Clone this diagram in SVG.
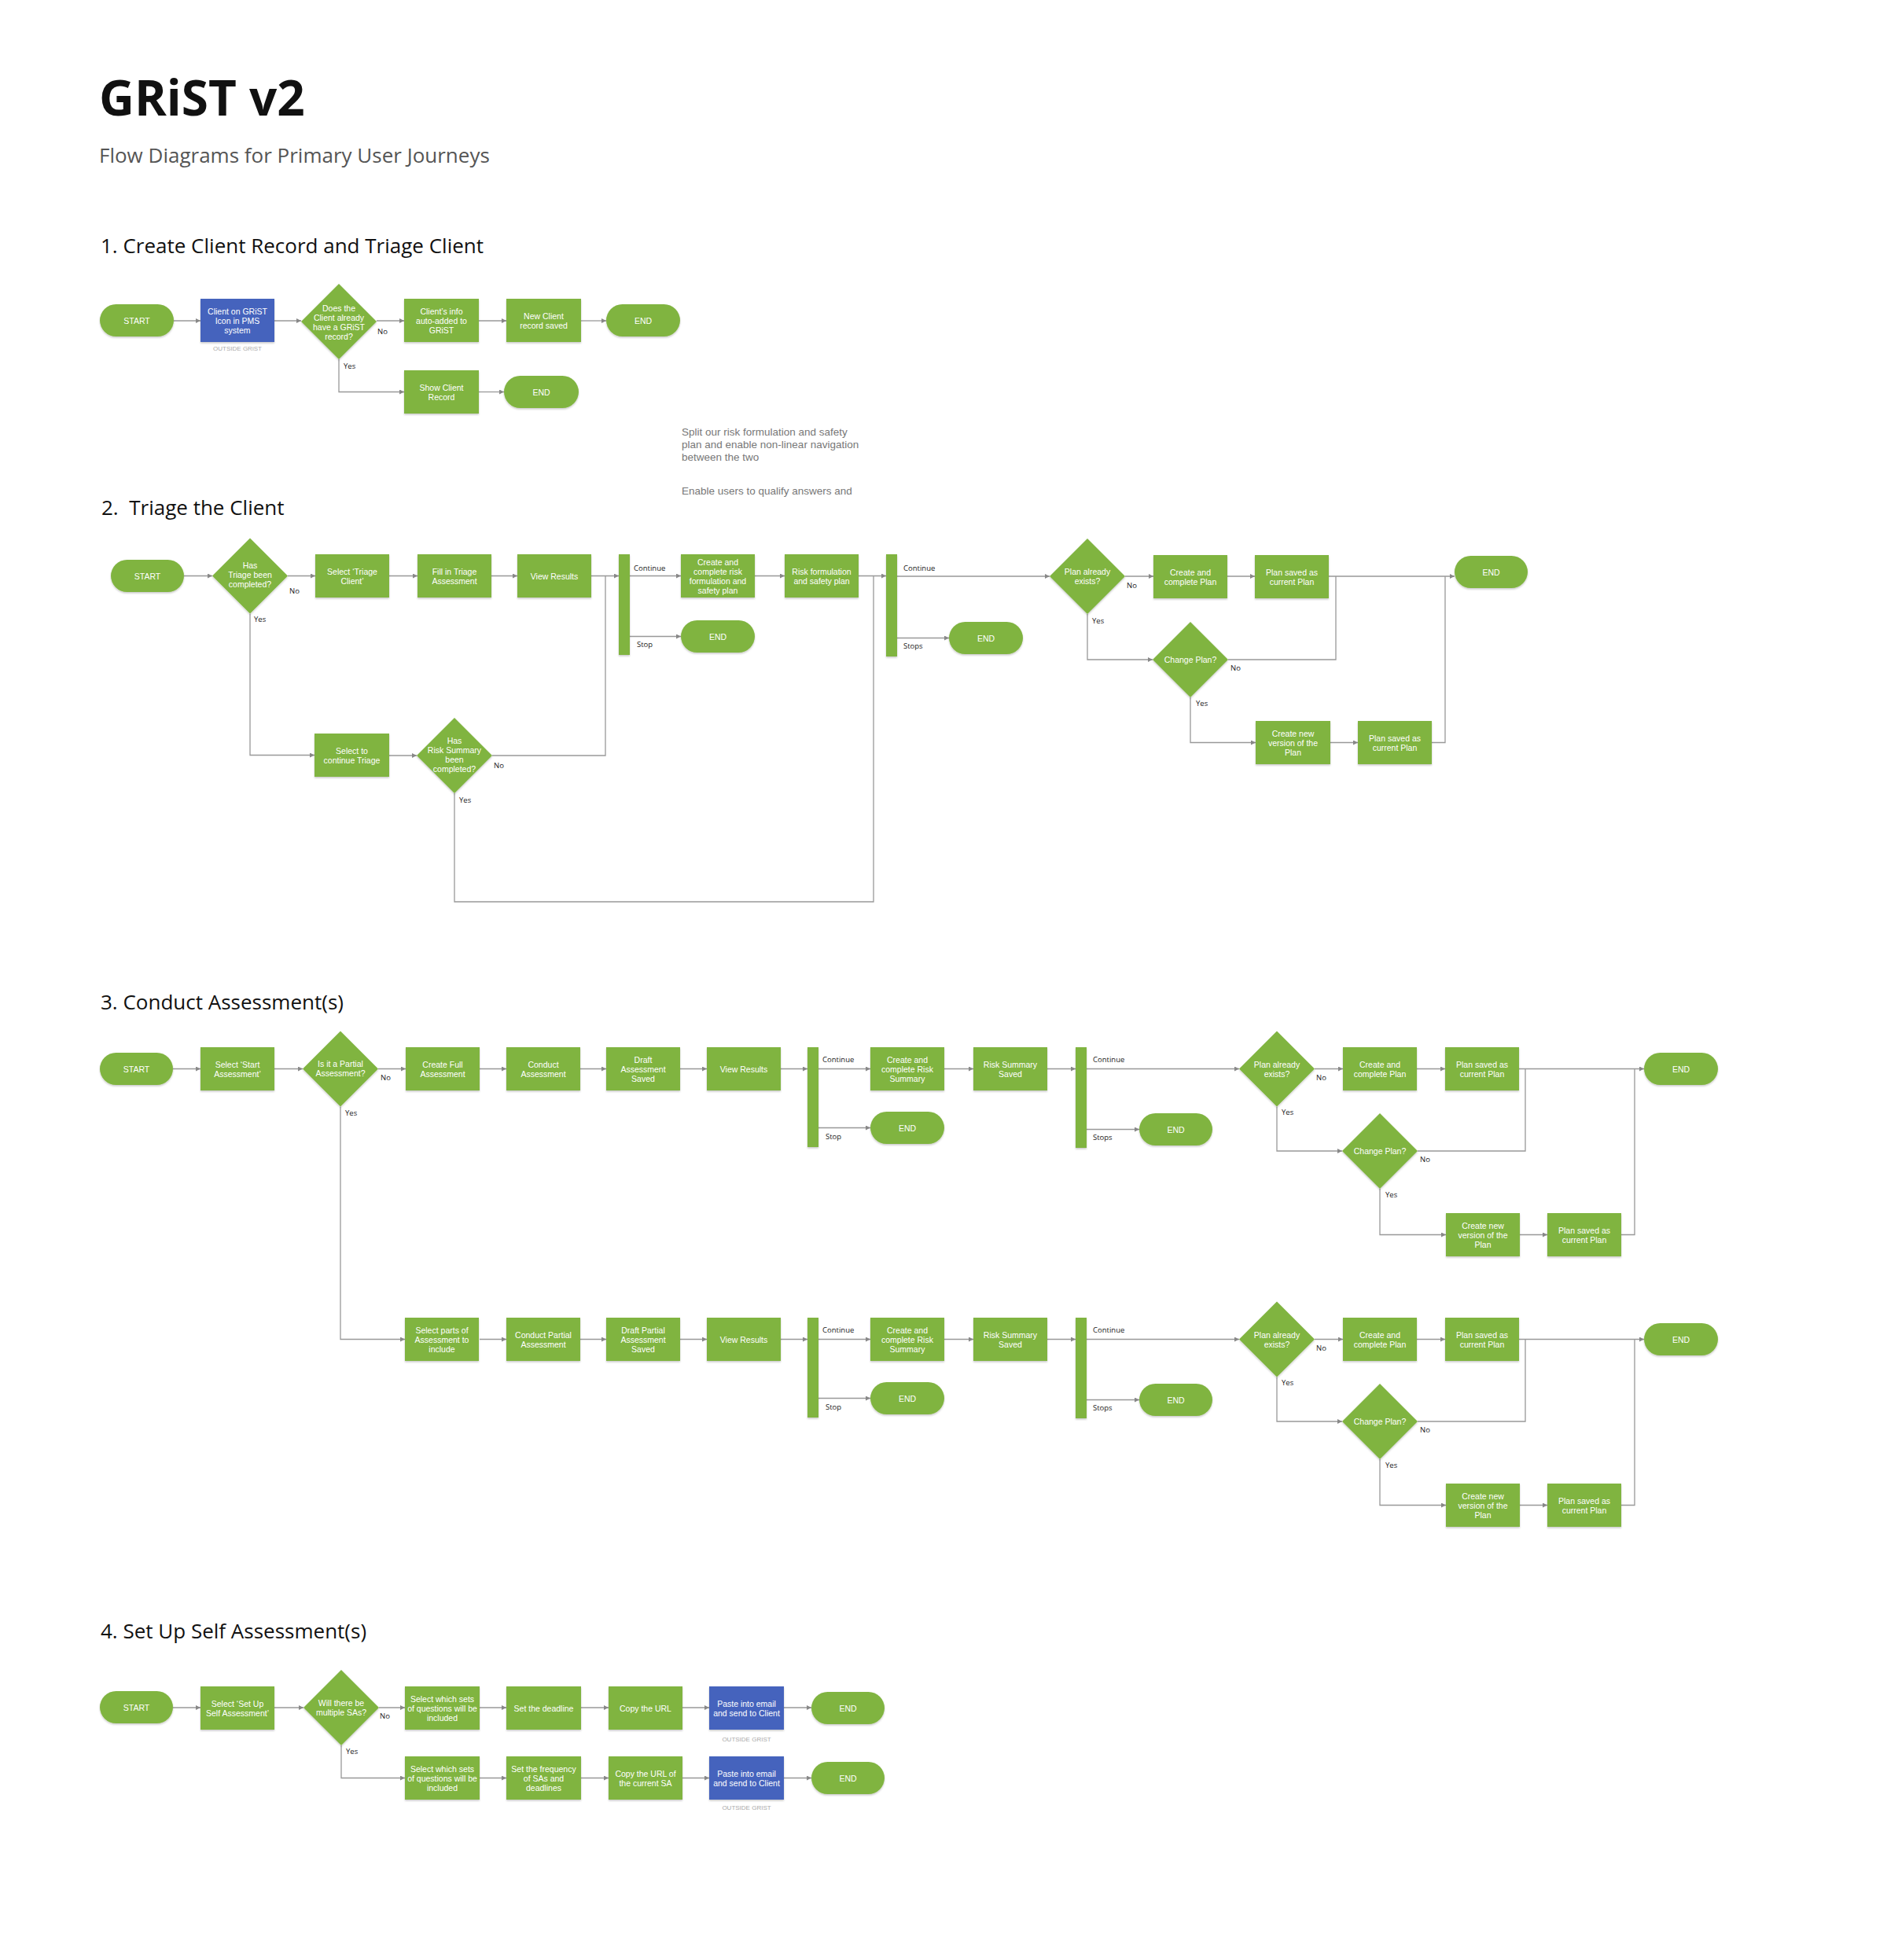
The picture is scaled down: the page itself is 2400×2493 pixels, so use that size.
<svg xmlns="http://www.w3.org/2000/svg" width="2400" height="2493" viewBox="0 0 2400 2493">
<defs>
<style>
.n{fill:#80b441;filter:url(#sh)}
.b{fill:#4563bd;filter:url(#sh)}
.t{font-family:"Liberation Sans",Arial,sans-serif;font-size:10.5px;fill:#fff;text-anchor:middle}
.l{font-family:"Open Sans","Liberation Sans",sans-serif;font-size:9.5px;fill:#222}
.og{font-family:"Liberation Sans",Arial,sans-serif;font-size:8px;fill:#aaa;text-anchor:middle}
.c{fill:none;stroke:#999;stroke-width:1.3}
.a{marker-end:url(#ah)}
.h{font-family:"Open Sans","Liberation Sans",sans-serif;font-size:26px;fill:#111}
.note{font-family:"Liberation Sans",Arial,sans-serif;font-size:13.5px;fill:#777}
</style>
<filter id="sh" x="-10%" y="-10%" width="130%" height="140%">
<feDropShadow dx="0" dy="1.5" stdDeviation="1.2" flood-color="#000" flood-opacity="0.22"/>
</filter>
<marker id="ah" viewBox="0 0 6 6" refX="6" refY="3" markerWidth="6" markerHeight="6" markerUnits="userSpaceOnUse" orient="auto">
<path d="M0,0 L6,3 L0,6 z" fill="#888"/>
</marker>
</defs>
<rect x="0" y="0" width="2400" height="2493" fill="#fff"/>

<g id="titles">
<text x="126" y="147" font-family="'Open Sans','Liberation Sans',sans-serif" font-weight="700" font-size="62" fill="#111">GRiST v2</text>
<text x="126" y="207" font-family="'Open Sans','Liberation Sans',sans-serif" font-size="26" fill="#555">Flow Diagrams for Primary User Journeys</text>
<text class="h" x="128" y="322">1. Create Client Record and Triage Client</text>
<text class="h" x="129" y="655" xml:space="preserve">2.  Triage the Client</text>
<text class="h" x="128" y="1284">3. Conduct Assessment(s)</text>
<text class="h" x="128" y="2084">4. Set Up Self Assessment(s)</text>
</g>

<g id="notes">
<text class="note" x="867" y="554">Split our risk formulation and safety</text>
<text class="note" x="867" y="570">plan and enable non-linear navigation</text>
<text class="note" x="867" y="586">between the two</text>
<text class="note" x="867" y="629">Enable users to qualify answers and</text>
</g>

<g id="connectors">
<!-- Section 1 -->
<path class="c a" d="M221,408 H255"/>
<path class="c a" d="M349,408 H383"/>
<path class="c a" d="M479,408 H514"/>
<path class="c a" d="M609,408 H644"/>
<path class="c a" d="M739,408 H771"/>
<path class="c a" d="M431,457 V498.5 H514"/>
<path class="c a" d="M609,498.5 H641"/>
<text class="l" x="480" y="425">No</text>
<text class="l" x="437" y="469">Yes</text>
<!-- Section 2 -->
<path class="c a" d="M234,732.5 H270"/>
<path class="c a" d="M366,732.5 H401"/>
<path class="c a" d="M495,732.5 H531"/>
<path class="c a" d="M625,732.5 H658"/>
<path class="c a" d="M752,732.5 H787"/>
<path class="c a" d="M801,732.5 H866"/>
<path class="c a" d="M801,809.5 H866"/>
<path class="c a" d="M960,732.5 H998"/>
<path class="c a" d="M1092,732.5 H1127"/>
<path class="c a" d="M1141,733 H1335"/>
<path class="c a" d="M1141,811.5 H1207"/>
<path class="c a" d="M1431,733 H1467"/>
<path class="c a" d="M1561,733 H1596"/>
<path class="c a" d="M1690,733 H1850"/>
<path class="c a" d="M318,780.5 V960.5 H400"/>
<path class="c a" d="M495,961 H530"/>
<path class="c" d="M626,961 H770 V732.5"/>
<path class="c" d="M578,1009 V1147 H1111 V732.5"/>
<path class="c a" d="M1383,781 V839 H1466"/>
<path class="c" d="M1562,839 H1699 V733"/>
<path class="c a" d="M1514,887 V944.5 H1597"/>
<path class="c a" d="M1692,944.5 H1727"/>
<path class="c" d="M1821,944.5 H1838 V733"/>
<text class="l" x="368" y="755">No</text>
<text class="l" x="323" y="791">Yes</text>
<text class="l" x="806" y="726">Continue</text>
<text class="l" x="810" y="823">Stop</text>
<text class="l" x="1149" y="726">Continue</text>
<text class="l" x="1149" y="825">Stops</text>
<text class="l" x="1433" y="748">No</text>
<text class="l" x="1389" y="793">Yes</text>
<text class="l" x="1565" y="853">No</text>
<text class="l" x="1521" y="898">Yes</text>
<text class="l" x="628" y="977">No</text>
<text class="l" x="584" y="1021">Yes</text>
<!-- Section 3 upper -->
<path class="c a" d="M220,1359.5 H255"/>
<path class="c a" d="M349,1359.5 H385"/>
<path class="c a" d="M481,1359.5 H516"/>
<path class="c a" d="M433,1407.5 V1703.5 H515"/>
<text class="l" x="484" y="1374">No</text>
<text class="l" x="439" y="1419">Yes</text>
<g id="s3-upper-links">
<path class="c a" d="M610,1359.5 H644"/>
<path class="c a" d="M738,1359.5 H771"/>
<path class="c a" d="M865,1359.5 H899"/>
<path class="c a" d="M993,1359.5 H1027"/>
<path class="c a" d="M1041,1359.5 H1107"/>
<path class="c a" d="M1041,1434.5 H1107"/>
<path class="c a" d="M1201,1359.5 H1238"/>
<path class="c a" d="M1332,1359.5 H1368"/>
<path class="c a" d="M1382,1359.5 H1576"/>
<path class="c a" d="M1382,1436.5 H1449"/>
<path class="c a" d="M1672,1359.5 H1708"/>
<path class="c a" d="M1802,1359.5 H1838"/>
<path class="c a" d="M1932,1359.5 H2091"/>
<path class="c a" d="M1624,1407.5 V1464 H1707"/>
<path class="c" d="M1803,1464 H1940 V1359.5"/>
<path class="c a" d="M1755,1512 V1570.5 H1839"/>
<path class="c a" d="M1933,1570.5 H1968"/>
<path class="c" d="M2062,1570.5 H2079 V1359.5"/>
<text class="l" x="1046" y="1351">Continue</text>
<text class="l" x="1050" y="1449">Stop</text>
<text class="l" x="1390" y="1351">Continue</text>
<text class="l" x="1390" y="1450">Stops</text>
<text class="l" x="1674" y="1374">No</text>
<text class="l" x="1630" y="1418">Yes</text>
<text class="l" x="1806" y="1478">No</text>
<text class="l" x="1762" y="1523">Yes</text>
</g>
<g id="s3-lower-links" transform="translate(0,344)">
<path class="c a" d="M610,1359.5 H644"/>
<path class="c a" d="M738,1359.5 H771"/>
<path class="c a" d="M865,1359.5 H899"/>
<path class="c a" d="M993,1359.5 H1027"/>
<path class="c a" d="M1041,1359.5 H1107"/>
<path class="c a" d="M1041,1434.5 H1107"/>
<path class="c a" d="M1201,1359.5 H1238"/>
<path class="c a" d="M1332,1359.5 H1368"/>
<path class="c a" d="M1382,1359.5 H1576"/>
<path class="c a" d="M1382,1436.5 H1449"/>
<path class="c a" d="M1672,1359.5 H1708"/>
<path class="c a" d="M1802,1359.5 H1838"/>
<path class="c a" d="M1932,1359.5 H2091"/>
<path class="c a" d="M1624,1407.5 V1464 H1707"/>
<path class="c" d="M1803,1464 H1940 V1359.5"/>
<path class="c a" d="M1755,1512 V1570.5 H1839"/>
<path class="c a" d="M1933,1570.5 H1968"/>
<path class="c" d="M2062,1570.5 H2079 V1359.5"/>
<text class="l" x="1046" y="1351">Continue</text>
<text class="l" x="1050" y="1449">Stop</text>
<text class="l" x="1390" y="1351">Continue</text>
<text class="l" x="1390" y="1450">Stops</text>
<text class="l" x="1674" y="1374">No</text>
<text class="l" x="1630" y="1418">Yes</text>
<text class="l" x="1806" y="1478">No</text>
<text class="l" x="1762" y="1523">Yes</text>
</g>
<!-- Section 4 -->
<path class="c a" d="M220,2172 H255"/>
<path class="c a" d="M349,2172 H386"/>
<path class="c a" d="M482,2172 H515"/>
<path class="c a" d="M610,2172 H644"/>
<path class="c a" d="M739,2172 H774"/>
<path class="c a" d="M868,2172 H902"/>
<path class="c a" d="M997,2172 H1032"/>
<path class="c a" d="M434,2220 V2261.5 H515"/>
<path class="c a" d="M610,2261.5 H644"/>
<path class="c a" d="M739,2261.5 H774"/>
<path class="c a" d="M868,2261.5 H902"/>
<path class="c a" d="M997,2261.5 H1032"/>
<text class="l" x="483" y="2186">No</text>
<text class="l" x="440" y="2231">Yes</text>
</g>

<!-- ===== Section 1 nodes ===== -->
<g id="s1-start"><rect class="n" x="127" y="387" width="94" height="41" rx="20.5"/><text class="t" x="174" y="411.5">START</text></g>
<g id="s1-client-pms"><rect class="b" x="255" y="380" width="94" height="55"/><text class="t"><tspan x="302" y="400">Client on GRiST</tspan><tspan x="302" y="412">Icon in PMS</tspan><tspan x="302" y="424">system</tspan></text><text class="og" x="302" y="446">OUTSIDE GRiST</text></g>
<g id="s1-has-record"><polygon class="n" points="431,361 479,409 431,457 383,409"/><text class="t"><tspan x="431" y="395.5">Does the</tspan><tspan x="431" y="407.5">Client already</tspan><tspan x="431" y="419.5">have a GRiST</tspan><tspan x="431" y="431.5">record?</tspan></text></g>
<g id="s1-auto-added"><rect class="n" x="514" y="380" width="95" height="55"/><text class="t"><tspan x="561.5" y="399.5">Client’s info</tspan><tspan x="561.5" y="411.5">auto-added to</tspan><tspan x="561.5" y="423.5">GRiST</tspan></text></g>
<g id="s1-record-saved"><rect class="n" x="644" y="380" width="95" height="55"/><text class="t"><tspan x="691.5" y="405.5">New Client</tspan><tspan x="691.5" y="417.5">record saved</tspan></text></g>
<g id="s1-end"><rect class="n" x="771" y="387" width="94" height="41" rx="20.5"/><text class="t" x="818" y="411.5">END</text></g>
<g id="s1-show-record"><rect class="n" x="514" y="471" width="95" height="55"/><text class="t"><tspan x="561.5" y="496.5">Show Client</tspan><tspan x="561.5" y="508.5">Record</tspan></text></g>
<g id="s1-end2"><rect class="n" x="641" y="478" width="95" height="41" rx="20.5"/><text class="t" x="688.5" y="502.5">END</text></g>

<!-- ===== Section 2 nodes ===== -->
<g id="s2-start"><rect class="n" x="141" y="712" width="93" height="41" rx="20.5"/><text class="t" x="187.5" y="736.5">START</text></g>
<g id="s2-triage-done"><polygon class="n" points="318,684.5 366,732.5 318,780.5 270,732.5"/><text class="t"><tspan x="318" y="722.5">Has</tspan><tspan x="318" y="734.5">Triage been</tspan><tspan x="318" y="746.5">completed?</tspan></text></g>
<g id="s2-select-triage"><rect class="n" x="401" y="705" width="94" height="55"/><text class="t"><tspan x="448" y="730.5">Select ‘Triage</tspan><tspan x="448" y="742.5">Client’</tspan></text></g>
<g id="s2-fill-triage"><rect class="n" x="531" y="705" width="94" height="55"/><text class="t"><tspan x="578" y="730.5">Fill in Triage</tspan><tspan x="578" y="742.5">Assessment</tspan></text></g>
<g id="s2-view-results"><rect class="n" x="658" y="705" width="94" height="55"/><text class="t" x="705" y="736.5">View Results</text></g>
<g id="s2-bar1"><rect class="n" x="787" y="705" width="14" height="128"/></g>
<g id="s2-create-risk"><rect class="n" x="866" y="705" width="94" height="55"/><text class="t"><tspan x="913" y="718.5">Create and</tspan><tspan x="913" y="730.5">complete risk</tspan><tspan x="913" y="742.5">formulation and</tspan><tspan x="913" y="754.5">safety plan</tspan></text></g>
<g id="s2-end1"><rect class="n" x="866" y="789" width="94" height="41" rx="20.5"/><text class="t" x="913" y="813.5">END</text></g>
<g id="s2-risk-plan"><rect class="n" x="998" y="705" width="94" height="55"/><text class="t"><tspan x="1045" y="730.5">Risk formulation</tspan><tspan x="1045" y="742.5">and safety plan</tspan></text></g>
<g id="s2-bar2"><rect class="n" x="1127" y="705" width="14" height="130"/></g>
<g id="s2-end2"><rect class="n" x="1207" y="791" width="94" height="41" rx="20.5"/><text class="t" x="1254" y="815.5">END</text></g>
<g id="s2-plan-exists"><polygon class="n" points="1383,685 1431,733 1383,781 1335,733"/><text class="t"><tspan x="1383" y="731">Plan already</tspan><tspan x="1383" y="743">exists?</tspan></text></g>
<g id="s2-create-plan"><rect class="n" x="1467" y="706" width="94" height="55"/><text class="t"><tspan x="1514" y="731.5">Create and</tspan><tspan x="1514" y="743.5">complete Plan</tspan></text></g>
<g id="s2-plan-saved"><rect class="n" x="1596" y="706" width="94" height="55"/><text class="t"><tspan x="1643" y="731.5">Plan saved as</tspan><tspan x="1643" y="743.5">current Plan</tspan></text></g>
<g id="s2-end3"><rect class="n" x="1850" y="707" width="93" height="41" rx="20.5"/><text class="t" x="1896.5" y="731.5">END</text></g>
<g id="s2-change-plan"><polygon class="n" points="1514,791 1562,839 1514,887 1466,839"/><text class="t" x="1514" y="843">Change Plan?</text></g>
<g id="s2-new-version"><rect class="n" x="1597" y="917" width="95" height="55"/><text class="t"><tspan x="1644.5" y="936.5">Create new</tspan><tspan x="1644.5" y="948.5">version of the</tspan><tspan x="1644.5" y="960.5">Plan</tspan></text></g>
<g id="s2-plan-saved2"><rect class="n" x="1727" y="917" width="94" height="55"/><text class="t"><tspan x="1774" y="942.5">Plan saved as</tspan><tspan x="1774" y="954.5">current Plan</tspan></text></g>
<g id="s2-continue-triage"><rect class="n" x="400" y="933" width="95" height="55"/><text class="t"><tspan x="447.5" y="958.5">Select to</tspan><tspan x="447.5" y="970.5">continue Triage</tspan></text></g>
<g id="s2-risk-done"><polygon class="n" points="578,913 626,961 578,1009 530,961"/><text class="t"><tspan x="578" y="946">Has</tspan><tspan x="578" y="958">Risk Summary</tspan><tspan x="578" y="970">been</tspan><tspan x="578" y="982">completed?</tspan></text></g>

<!-- ===== Section 3 nodes ===== -->
<g id="s3-start"><rect class="n" x="127" y="1339" width="93" height="41" rx="20.5"/><text class="t" x="173.5" y="1363.5">START</text></g>
<g id="s3-select-start"><rect class="n" x="255" y="1332" width="94" height="55"/><text class="t"><tspan x="302" y="1357.5">Select ‘Start</tspan><tspan x="302" y="1369.5">Assessment’</tspan></text></g>
<g id="s3-partial"><polygon class="n" points="433,1311.5 481,1359.5 433,1407.5 385,1359.5"/><text class="t"><tspan x="433" y="1357">Is it a Partial</tspan><tspan x="433" y="1369">Assessment?</tspan></text></g>
<g id="s3-create-full"><rect class="n" x="516" y="1332" width="94" height="55"/><text class="t"><tspan x="563" y="1357.5">Create Full</tspan><tspan x="563" y="1369.5">Assessment</tspan></text></g>
<g id="s3-conduct"><rect class="n" x="644" y="1332" width="94" height="55"/><text class="t"><tspan x="691" y="1357.5">Conduct</tspan><tspan x="691" y="1369.5">Assessment</tspan></text></g>
<g id="s3-draft"><rect class="n" x="771" y="1332" width="94" height="55"/><text class="t"><tspan x="818" y="1351.5">Draft</tspan><tspan x="818" y="1363.5">Assessment</tspan><tspan x="818" y="1375.5">Saved</tspan></text></g>
<g id="s3-view"><rect class="n" x="899" y="1332" width="94" height="55"/><text class="t" x="946" y="1363.5">View Results</text></g>
<g id="s3-bar1"><rect class="n" x="1027" y="1332" width="14" height="127"/></g>
<g id="s3-create-rs"><rect class="n" x="1107" y="1332" width="94" height="55"/><text class="t"><tspan x="1154" y="1351.5">Create and</tspan><tspan x="1154" y="1363.5">complete Risk</tspan><tspan x="1154" y="1375.5">Summary</tspan></text></g>
<g id="s3-end1"><rect class="n" x="1107" y="1414" width="94" height="41" rx="20.5"/><text class="t" x="1154" y="1438.5">END</text></g>
<g id="s3-rs-saved"><rect class="n" x="1238" y="1332" width="94" height="55"/><text class="t"><tspan x="1285" y="1357.5">Risk Summary</tspan><tspan x="1285" y="1369.5">Saved</tspan></text></g>
<g id="s3-bar2"><rect class="n" x="1368" y="1332" width="14" height="128"/></g>
<g id="s3-end2"><rect class="n" x="1449" y="1416" width="93" height="41" rx="20.5"/><text class="t" x="1495.5" y="1440.5">END</text></g>
<g id="s3-plan-exists"><polygon class="n" points="1624,1311.5 1672,1359.5 1624,1407.5 1576,1359.5"/><text class="t"><tspan x="1624" y="1357.5">Plan already</tspan><tspan x="1624" y="1369.5">exists?</tspan></text></g>
<g id="s3-create-plan"><rect class="n" x="1708" y="1332" width="94" height="55"/><text class="t"><tspan x="1755" y="1357.5">Create and</tspan><tspan x="1755" y="1369.5">complete Plan</tspan></text></g>
<g id="s3-plan-saved"><rect class="n" x="1838" y="1332" width="94" height="55"/><text class="t"><tspan x="1885" y="1357.5">Plan saved as</tspan><tspan x="1885" y="1369.5">current Plan</tspan></text></g>
<g id="s3-end3"><rect class="n" x="2091" y="1339" width="94" height="41" rx="20.5"/><text class="t" x="2138" y="1363.5">END</text></g>
<g id="s3-change-plan"><polygon class="n" points="1755,1416 1803,1464 1755,1512 1707,1464"/><text class="t" x="1755" y="1468">Change Plan?</text></g>
<g id="s3-new-version"><rect class="n" x="1839" y="1543" width="94" height="55"/><text class="t"><tspan x="1886" y="1562.5">Create new</tspan><tspan x="1886" y="1574.5">version of the</tspan><tspan x="1886" y="1586.5">Plan</tspan></text></g>
<g id="s3-plan-saved2"><rect class="n" x="1968" y="1543" width="94" height="55"/><text class="t"><tspan x="2015" y="1568.5">Plan saved as</tspan><tspan x="2015" y="1580.5">current Plan</tspan></text></g>

<g transform="translate(0,344)">
<g id="s3b-select-parts"><rect class="n" x="515" y="1332" width="94" height="55"/><text class="t"><tspan x="562" y="1351.5">Select parts of</tspan><tspan x="562" y="1363.5">Assessment to</tspan><tspan x="562" y="1375.5">include</tspan></text></g>
<g id="s3b-conduct"><rect class="n" x="644" y="1332" width="94" height="55"/><text class="t"><tspan x="691" y="1357.5">Conduct Partial</tspan><tspan x="691" y="1369.5">Assessment</tspan></text></g>
<g id="s3b-draft"><rect class="n" x="771" y="1332" width="94" height="55"/><text class="t"><tspan x="818" y="1351.5">Draft Partial</tspan><tspan x="818" y="1363.5">Assessment</tspan><tspan x="818" y="1375.5">Saved</tspan></text></g>
<g id="s3b-view"><rect class="n" x="899" y="1332" width="94" height="55"/><text class="t" x="946" y="1363.5">View Results</text></g>
<g id="s3b-bar1"><rect class="n" x="1027" y="1332" width="14" height="127"/></g>
<g id="s3b-create-rs"><rect class="n" x="1107" y="1332" width="94" height="55"/><text class="t"><tspan x="1154" y="1351.5">Create and</tspan><tspan x="1154" y="1363.5">complete Risk</tspan><tspan x="1154" y="1375.5">Summary</tspan></text></g>
<g id="s3b-end1"><rect class="n" x="1107" y="1414" width="94" height="41" rx="20.5"/><text class="t" x="1154" y="1438.5">END</text></g>
<g id="s3b-rs-saved"><rect class="n" x="1238" y="1332" width="94" height="55"/><text class="t"><tspan x="1285" y="1357.5">Risk Summary</tspan><tspan x="1285" y="1369.5">Saved</tspan></text></g>
<g id="s3b-bar2"><rect class="n" x="1368" y="1332" width="14" height="128"/></g>
<g id="s3b-end2"><rect class="n" x="1449" y="1416" width="93" height="41" rx="20.5"/><text class="t" x="1495.5" y="1440.5">END</text></g>
<g id="s3b-plan-exists"><polygon class="n" points="1624,1311.5 1672,1359.5 1624,1407.5 1576,1359.5"/><text class="t"><tspan x="1624" y="1357.5">Plan already</tspan><tspan x="1624" y="1369.5">exists?</tspan></text></g>
<g id="s3b-create-plan"><rect class="n" x="1708" y="1332" width="94" height="55"/><text class="t"><tspan x="1755" y="1357.5">Create and</tspan><tspan x="1755" y="1369.5">complete Plan</tspan></text></g>
<g id="s3b-plan-saved"><rect class="n" x="1838" y="1332" width="94" height="55"/><text class="t"><tspan x="1885" y="1357.5">Plan saved as</tspan><tspan x="1885" y="1369.5">current Plan</tspan></text></g>
<g id="s3b-end3"><rect class="n" x="2091" y="1339" width="94" height="41" rx="20.5"/><text class="t" x="2138" y="1363.5">END</text></g>
<g id="s3b-change-plan"><polygon class="n" points="1755,1416 1803,1464 1755,1512 1707,1464"/><text class="t" x="1755" y="1468">Change Plan?</text></g>
<g id="s3b-new-version"><rect class="n" x="1839" y="1543" width="94" height="55"/><text class="t"><tspan x="1886" y="1562.5">Create new</tspan><tspan x="1886" y="1574.5">version of the</tspan><tspan x="1886" y="1586.5">Plan</tspan></text></g>
<g id="s3b-plan-saved2"><rect class="n" x="1968" y="1543" width="94" height="55"/><text class="t"><tspan x="2015" y="1568.5">Plan saved as</tspan><tspan x="2015" y="1580.5">current Plan</tspan></text></g>
</g>

<!-- ===== Section 4 nodes ===== -->
<g id="s4-start"><rect class="n" x="127" y="2151" width="93" height="41" rx="20.5"/><text class="t" x="173.5" y="2175.5">START</text></g>
<g id="s4-select-setup"><rect class="n" x="255" y="2145" width="94" height="55"/><text class="t"><tspan x="302" y="2170.5">Select ‘Set Up</tspan><tspan x="302" y="2182.5">Self Assessment’</tspan></text></g>
<g id="s4-multiple"><polygon class="n" points="434,2124 482,2172 434,2220 386,2172"/><text class="t"><tspan x="434" y="2170">Will there be</tspan><tspan x="434" y="2182">multiple SAs?</tspan></text></g>
<g id="s4-sets1"><rect class="n" x="515" y="2145" width="95" height="55"/><text class="t"><tspan x="562.5" y="2164.5">Select which sets</tspan><tspan x="562.5" y="2176.5">of questions will be</tspan><tspan x="562.5" y="2188.5">included</tspan></text></g>
<g id="s4-deadline"><rect class="n" x="644" y="2145" width="95" height="55"/><text class="t" x="691.5" y="2176.5">Set the deadline</text></g>
<g id="s4-copy-url"><rect class="n" x="774" y="2145" width="94" height="55"/><text class="t" x="821" y="2176.5">Copy the URL</text></g>
<g id="s4-paste1"><rect class="b" x="902" y="2145" width="95" height="55"/><text class="t"><tspan x="949.5" y="2170.5">Paste into email</tspan><tspan x="949.5" y="2182.5">and send to Client</tspan></text><text class="og" x="949.5" y="2215">OUTSIDE GRIST</text></g>
<g id="s4-end1"><rect class="n" x="1032" y="2152" width="93" height="41" rx="20.5"/><text class="t" x="1078.5" y="2176.5">END</text></g>
<g id="s4-sets2"><rect class="n" x="515" y="2234" width="95" height="55"/><text class="t"><tspan x="562.5" y="2253.5">Select which sets</tspan><tspan x="562.5" y="2265.5">of questions will be</tspan><tspan x="562.5" y="2277.5">included</tspan></text></g>
<g id="s4-frequency"><rect class="n" x="644" y="2234" width="95" height="55"/><text class="t"><tspan x="691.5" y="2253.5">Set the frequency</tspan><tspan x="691.5" y="2265.5">of SAs and</tspan><tspan x="691.5" y="2277.5">deadlines</tspan></text></g>
<g id="s4-copy-url2"><rect class="n" x="774" y="2234" width="94" height="55"/><text class="t"><tspan x="821" y="2259.5">Copy the URL of</tspan><tspan x="821" y="2271.5">the current SA</tspan></text></g>
<g id="s4-paste2"><rect class="b" x="902" y="2234" width="95" height="55"/><text class="t"><tspan x="949.5" y="2259.5">Paste into email</tspan><tspan x="949.5" y="2271.5">and send to Client</tspan></text><text class="og" x="949.5" y="2302">OUTSIDE GRIST</text></g>
<g id="s4-end2"><rect class="n" x="1032" y="2241" width="93" height="41" rx="20.5"/><text class="t" x="1078.5" y="2265.5">END</text></g>
</svg>
